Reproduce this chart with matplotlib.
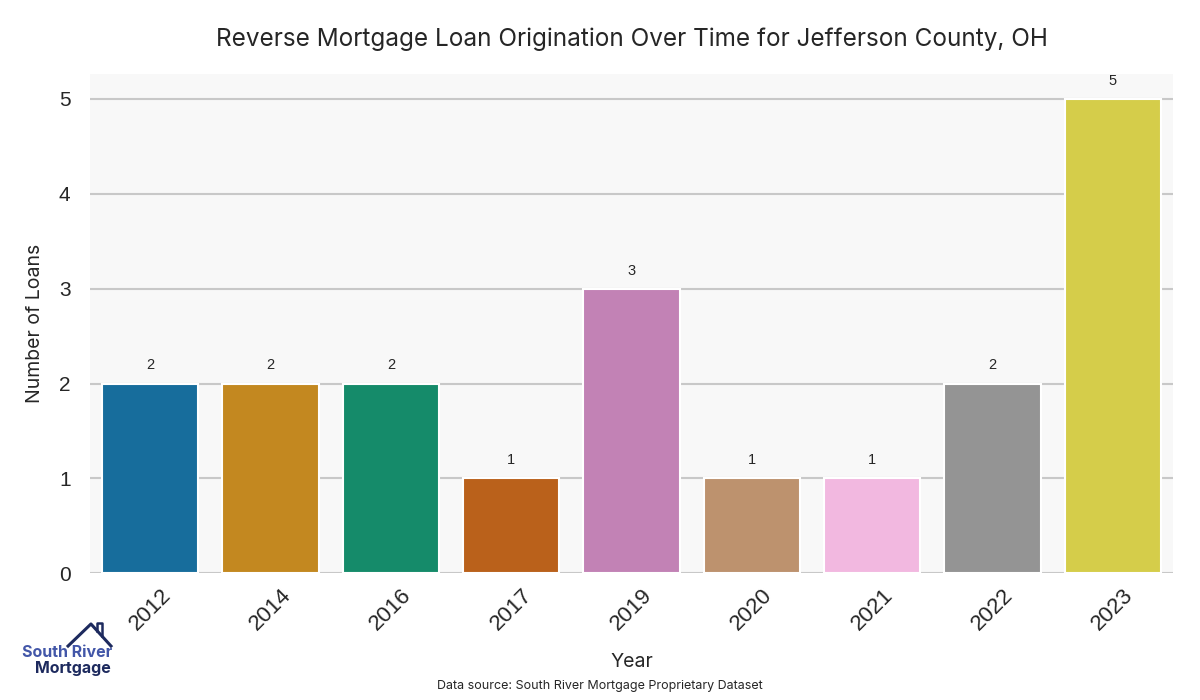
import matplotlib.pyplot as plt
import seaborn as sns
from matplotlib.lines import Line2D

# data
years = ['2012', '2014', '2016', '2017', '2019', '2020', '2021', '2022', '2023']
loans = [2, 2, 2, 1, 3, 1, 1, 2, 5]
colors = [sns.desaturate(c, 0.75) for c in sns.color_palette('colorblind', len(years))]

plt.rcParams['font.family'] = ['Inter', 'DejaVu Sans']

fig = plt.figure(figsize=(12, 7), dpi=100)
ax = fig.add_axes([0.075, 0.181, 0.9025, 0.713])
ax.set_facecolor('#f8f8f8')

bars = ax.bar(range(len(years)), loans, width=0.8, color=colors,
              edgecolor='white', linewidth=1.5, zorder=3)
for b, v in zip(bars, loans):
    ax.annotate(str(v), (b.get_x() + b.get_width() / 2, v),
                xytext=(0, 13), textcoords='offset points',
                ha='center', va='center', fontsize=10.5, color='#262626',
                family=['Liberation Sans'])

ax.set_xlim(-0.5, len(years) - 0.5)
ax.set_ylim(0, 5.26)
ax.set_yticks(range(6))
ax.set_xticks(range(len(years)))
ax.set_xticklabels(years, rotation=45, fontsize=16, family=['Liberation Sans'])
for lbl in ax.get_yticklabels():
    lbl.set_fontsize(15)
    lbl.set_family(['Liberation Sans'])
ax.tick_params(colors='#262626', length=0, pad=8)
ax.tick_params(axis='y', pad=14)
ax.grid(axis='y', color='#c8c8c8', linewidth=1.5, zorder=0)
for s in ax.spines.values():
    s.set_visible(False)

ax.set_xlabel('Year', fontsize=14, color='#262626', va='center')
ax.xaxis.set_label_coords(0.5, -0.178)
ax.set_ylabel('Number of Loans', fontsize=14, color='#262626', va='center')
ax.yaxis.set_label_coords(-0.051, 0.5)
ax.set_title('Reverse Mortgage Loan Origination Over Time for Jefferson County, OH',
             fontsize=17.5, color='#262626', pad=20)

fig.text(0.5, 0.016, 'Data source: South River Mortgage Proprietary Dataset',
         ha='center', fontsize=9, color='#262626')

# logo
fig.text(0.0555, 0.068, 'South River', ha='center', va='center', fontsize=11.5,
         color='#4256a8', fontweight='bold')
fig.text(0.0605, 0.0443, 'Mortgage', ha='center', va='center', fontsize=11.5,
         color='#1d2a5e', fontweight='bold')
fig.add_artist(Line2D([0.0567, 0.0758, 0.0925], [0.0771, 0.1086, 0.0771],
                      transform=fig.transFigure, color='#1d2a5e', lw=2.2))
fig.add_artist(Line2D([0.0808, 0.0808, 0.085, 0.085],
                      [0.099, 0.110, 0.110, 0.092],
                      transform=fig.transFigure, color='#1d2a5e', lw=1.8))

fig.savefig('out.png', dpi=100)
